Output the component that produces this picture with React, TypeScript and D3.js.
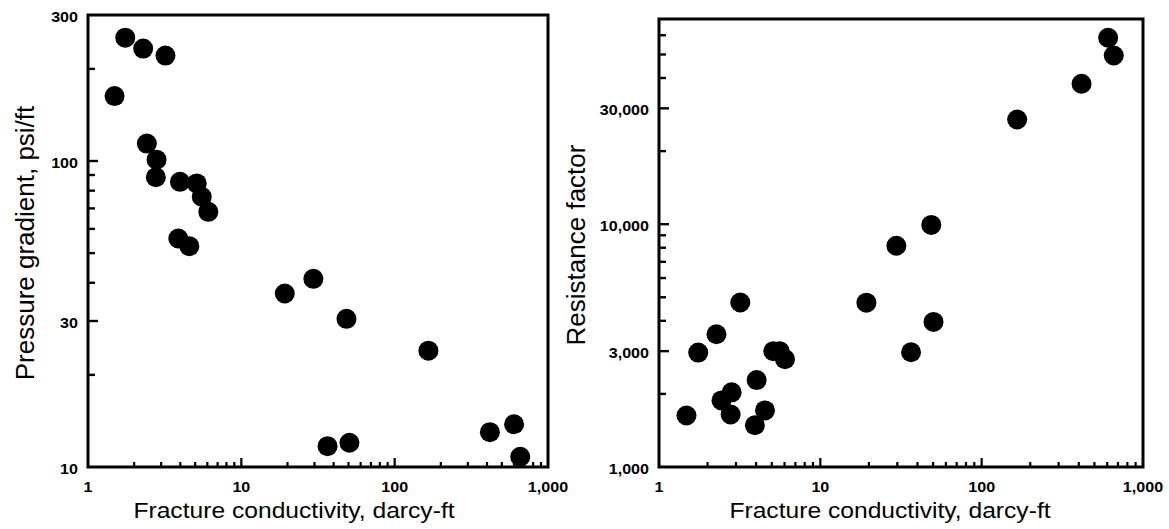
import React from "react";
import * as d3 from "d3";

// Left panel: pressure gradient vs fracture conductivity
const pgConductivity = [1.49, 1.75, 2.29, 3.2, 2.42, 2.8, 2.77, 3.98, 5.12, 5.52, 6.09, 3.88, 4.58, 19.2, 29.5, 48.5, 166, 36.5, 50.7, 418, 601, 659];
const pressureGradient = [163, 253, 233, 221, 114, 101, 88.5, 85.5, 84.5, 76.4, 68.2, 55.8, 52.7, 36.9, 41.2, 30.5, 24.0, 11.7, 12.0, 13.0, 13.8, 10.8];

// Right panel: resistance factor vs fracture conductivity
const rfConductivity = [1.48, 1.75, 2.27, 3.19, 2.44, 2.82, 2.78, 4.03, 3.93, 4.54, 5.11, 5.6, 6.04, 19.3, 29.6, 48.7, 50.3, 36.5, 166, 416, 608, 659];
const resistanceFactor = [1630, 2960, 3520, 4760, 1880, 2030, 1645, 2280, 1485, 1710, 3000, 3000, 2780, 4750, 8150, 9930, 3960, 2970, 27000, 37900, 58600, 49500];

const xTickLabels = [1, 10, 100, 1000];
const pgTickLabels = [10, 30, 100, 300];
const rfTickLabels = [1000, 3000, 10000, 30000];

const xTitle = "Fracture conductivity, darcy-ft";
const pgTitle = "Pressure gradient, psi/ft";
const rfTitle = "Resistance factor";

const FONT = "'Liberation Sans', Arial, Helvetica, sans-serif";
const fmt = d3.format(",");

type PanelProps = {
  xs: number[];
  ys: number[];
  xDomain: [number, number];
  yDomain: [number, number];
  left: number;
  right: number;
  top: number;
  bottom: number;
  yLabels: number[];
  yTitle: string;
  yTitleX: number;
  xTitleX: number;
};

function Panel(p: PanelProps) {
  const x = d3.scaleLog().domain(p.xDomain).range([p.left, p.right]);
  const y = d3.scaleLog().domain(p.yDomain).range([p.bottom, p.top]);
  const isDecade = (v: number) => Math.abs(Math.log10(v) - Math.round(Math.log10(v))) < 1e-9;
  const xt = x.ticks().filter((v) => v > p.xDomain[0] * 1.0001 && v < p.xDomain[1] * 0.9999);
  const yt = y.ticks().filter((v) => v > p.yDomain[0] * 1.0001 && v < p.yDomain[1] * 0.9999);
  const yMid = (p.top + p.bottom) / 2;
  return (
    <g>
      {xt.map((v, i) => (
        <line key={"xt" + i} x1={x(v)} x2={x(v)} y1={p.bottom} y2={p.bottom - (isDecade(v) ? 9 : 5)} stroke="#000" strokeWidth={2.2} />
      ))}
      {yt.map((v, i) => (
        <line key={"yt" + i} x1={p.left} x2={p.left + (p.yLabels.includes(v) ? 10 : 7)} y1={y(v)} y2={y(v)} stroke="#000" strokeWidth={2.4} />
      ))}
      <rect x={p.left} y={p.top} width={p.right - p.left} height={p.bottom - p.top} fill="none" stroke="#000" strokeWidth={3} />
      {p.xs.map((xv, i) => (
        <circle key={"c" + i} cx={x(xv)} cy={y(p.ys[i])} r={10} fill="#000" />
      ))}
      {xTickLabels.map((v, i) => (
        <text key={"xl" + i} transform={`translate(${x(v)},${p.bottom + 20}) scale(1.15,1)`} textAnchor="middle" dominantBaseline="central" fontFamily={FONT} fontSize={14} fontWeight="bold" fill="#000">
          {fmt(v)}
        </text>
      ))}
      {p.yLabels.map((v, i) => (
        <text key={"yl" + i} transform={`translate(${p.left - 10},${y(v) + 2})  scale(1.15,1)`} textAnchor="end" dominantBaseline="central" fontFamily={FONT} fontSize={14} fontWeight="bold" fill="#000">
          {fmt(v)}
        </text>
      ))}
      <text transform={`translate(${p.xTitleX},518) scale(1.12,1)`} textAnchor="middle" fontFamily={FONT} fontSize={22} fill="#000">
        {xTitle}
      </text>
      <text transform={`translate(${p.yTitleX},${yMid + 2}) rotate(-90)`} textAnchor="middle" fontFamily={FONT} fontSize={26} fill="#000">
        {p.yTitle}
      </text>
    </g>
  );
}

export default function App() {
  return (
    <svg width={1169} height={529} style={{ position: "absolute", left: 0, top: 0, background: "#fff" }}>
      <rect x={0} y={0} width={1169} height={529} fill="#fff" />
      <Panel
        xs={pgConductivity}
        ys={pressureGradient}
        xDomain={[1, 1000]}
        yDomain={[10, 300]}
        left={88}
        right={548}
        top={15}
        bottom={467}
        yLabels={pgTickLabels}
        yTitle={pgTitle}
        yTitleX={34}
        xTitleX={294}
      />
      <Panel
        xs={rfConductivity}
        ys={resistanceFactor}
        xDomain={[1, 1000]}
        yDomain={[1000, 70000]}
        left={659}
        right={1143}
        top={19}
        bottom={467}
        yLabels={rfTickLabels}
        yTitle={rfTitle}
        yTitleX={585}
        xTitleX={890}
      />
    </svg>
  );
}
